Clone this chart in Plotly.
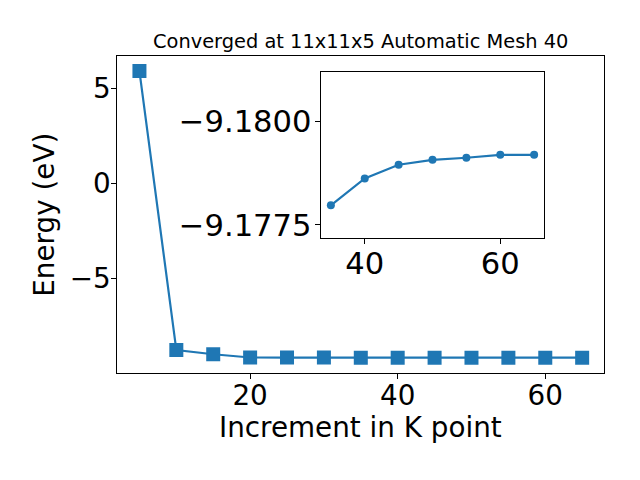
import plotly.graph_objects as go

# Main series: k-point increment vs total energy
kpoints = [5, 10, 15, 20, 25, 30, 35, 40, 45, 50, 55, 60, 65]
energy = [5.92, -8.78, -9.00, -9.170, -9.175, -9.177, -9.17797, -9.17862,
          -9.17895, -9.17907, -9.17912, -9.17919, -9.17919]

# Inset series (zoom on converged region)
inset_k = [35, 40, 45, 50, 55, 60, 65]
inset_e = [-9.17797, -9.17862, -9.17895, -9.17907, -9.17912, -9.17919, -9.17919]

title_text = "Converged at 11x11x5 Automatic Mesh 40"
xlabel = "Increment in K point"
ylabel = "Energy (eV)"

blue = "#1f77b4"
FONT = "DejaVu Sans"

fig = go.Figure()
fig.add_trace(go.Scatter(x=kpoints, y=energy, mode="lines+markers",
                         line=dict(color=blue, width=2.2),
                         marker=dict(symbol="square", size=14, color=blue),
                         xaxis="x", yaxis="y", showlegend=False))
fig.add_trace(go.Scatter(x=inset_k, y=inset_e, mode="lines+markers",
                         line=dict(color=blue, width=2.2),
                         marker=dict(symbol="circle", size=8, color=blue),
                         xaxis="x2", yaxis="y2", showlegend=False))

axis_common = dict(showgrid=False, zeroline=False, showline=True, mirror=True,
                   linecolor="black", linewidth=1.1, ticks="outside",
                   ticklen=5, tickwidth=1.1, tickcolor="black")

fig.update_layout(
    width=640, height=480,
    margin=dict(l=0, r=0, t=0, b=0),
    paper_bgcolor="white", plot_bgcolor="white",
    font=dict(family=FONT, color="black"),
    xaxis=dict(domain=[117.3/640, 604.3/640], range=[2, 68],
               tickvals=[20, 40, 60], tickfont=dict(size=27.8, family=FONT),
               ticklabelstandoff=-7,
               anchor="y", **axis_common),
    yaxis=dict(domain=[(480-376)/480, (480-56)/480], range=[-9.98, 6.74],
               tickvals=[-5, 0, 5], tickfont=dict(size=27.8, family=FONT),
               ticklabelstandoff=-5,
               anchor="x", **axis_common),
    xaxis2=dict(domain=[320.7/640, 544.3/640], range=[33.5, 66.5],
                tickvals=[40, 60], tickfont=dict(size=30.6, family=FONT),
                ticklabelstandoff=-7,
                anchor="y2", **axis_common),
    yaxis2=dict(domain=[(480-240)/480, (480-72.3)/480],
                range=[-9.177182, -9.181197],
                tickvals=[-9.18, -9.1775], tickformat=".4f",
                tickfont=dict(size=30.6, family=FONT),
                ticklabelstandoff=-3,
                anchor="x2", **axis_common),
    annotations=[
        dict(text=title_text, x=360.5/640, y=(480-42)/480, xref="paper", yref="paper",
             showarrow=False, xanchor="center", yanchor="middle",
             font=dict(size=19.4, family=FONT)),
        dict(text=xlabel, x=360.8/640, y=(480-431)/480, xref="paper", yref="paper",
             showarrow=False, xanchor="center", yanchor="middle",
             font=dict(size=27.8, family=FONT)),
        dict(text=ylabel, x=45/640, y=(480-216.5)/480, xref="paper", yref="paper",
             showarrow=False, xanchor="center", yanchor="middle", textangle=-90,
             font=dict(size=27.8, family=FONT)),
    ],
)

fig.write_html("out.html", config={"displayModeBar": False},
               post_script="document.body.style.margin='0px';")
